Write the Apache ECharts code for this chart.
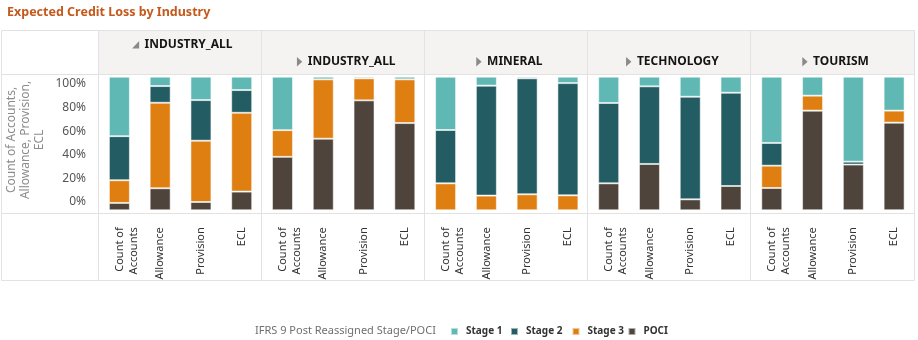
<!DOCTYPE html>
<html><head><meta charset="utf-8">
<script src="https://cdn.jsdelivr.net/npm/echarts@6/dist/echarts.min.js"></script>
<style>html,body{margin:0;padding:0;background:#fff}#c{width:918px;height:340px}</style>
</head><body><div id="c"></div>
<script>
// ---- data ----
const categories = ['Count of\nAccounts', 'Allowance', 'Provision', 'ECL'];
const industries = ['INDUSTRY_ALL', 'INDUSTRY_ALL', 'MINERAL', 'TECHNOLOGY', 'TOURISM'];
const stageNames = ['Stage 1', 'Stage 2', 'Stage 3', 'POCI'];
const yTicks = [0, 20, 40, 60, 80, 100];
// percent shares per industry panel, in category order
const stage1 = [[44.5, 7, 17.5, 10], [40, 2, 1.2, 2], [39.9, 6.7, 1.2, 4.8], [19.7, 7.2, 15, 12], [49.6, 14.2, 63.6, 25.4]];
const stage2 = [[33, 12.5, 30.4, 17], [0, 0, 0, 0], [39.9, 82.3, 86.8, 84], [60.1, 58.1, 76.8, 69.8], [17, 0, 2.2, 0]];
const stage3 = [[17, 64, 45.9, 59], [20, 44.4, 16.5, 32.7], [20.2, 11, 12, 11.2], [0, 0, 0, 0], [16.7, 11.2, 0, 9]];
const poci   = [[5.5, 16.5, 6.2, 14], [40, 53.6, 82.3, 65.3], [0, 0, 0, 0], [20.2, 34.7, 8.2, 18.2], [16.7, 74.6, 34.2, 65.6]];

// ---- styling / layout ----
const FONT = '"Noto Sans", "Open Sans", sans-serif';
const colors = { 'Stage 1': '#5fb8b4', 'Stage 2': '#245c63', 'Stage 3': '#df7f12', 'POCI': '#4f443b' };
const panelLeft = [99, 262.1, 425.2, 588.3, 751.4];
const panelW = 163.1;
const plotTop = 76.7, plotH = 133.6;
const LINE = '#e2e2e2';

const chart = echarts.init(document.getElementById('c'), null, { renderer: 'canvas' });

const grids = [], xAxes = [], yAxes = [], series = [];
panelLeft.forEach((l, p) => {
  grids.push({ left: l, top: plotTop, width: panelW, height: plotH });
  xAxes.push({
    type: 'category', gridIndex: p, data: categories,
    axisLine: { show: false }, axisTick: { show: false },
    axisLabel: {
      rotate: 90, margin: 17, fontSize: 11, color: '#333', fontFamily: FONT, lineHeight: 14, interval: 0,
      formatter: v => (v.indexOf('\n') >= 0 ? ' \n' + v : v)
    }
  });
  yAxes.push({ type: 'value', gridIndex: p, min: 0, max: 100, show: false });
  const stackOrder = [['POCI', poci], ['Stage 3', stage3], ['Stage 2', stage2], ['Stage 1', stage1]];
  stackOrder.forEach(([name, arr]) => {
    series.push({
      type: 'bar', name, stack: 'p' + p, xAxisIndex: p, yAxisIndex: p,
      barWidth: 21,
      data: arr[p].map(v => v === 0 ? '-' : v),
      itemStyle: { color: colors[name], borderColor: 'rgba(255,255,255,0.55)', borderWidth: 1 },
      emphasis: { disabled: true }
    });
  });
});
// label-only grid for the percentage axis
grids.push({ left: 86, top: 84, width: 1, height: 117.7 });
xAxes.push({ type: 'value', gridIndex: 5, show: false });
yAxes.push({
  type: 'value', gridIndex: 5, min: yTicks[0], max: yTicks[yTicks.length - 1], interval: 20,
  axisLine: { show: false }, axisTick: { show: false }, splitLine: { show: false },
  axisLabel: { margin: 0, fontSize: 12, color: '#555', fontFamily: FONT, formatter: '{value}%' }
});

// measure header text widths
const mctx = document.createElement('canvas').getContext('2d');
mctx.font = 'bold 12px ' + FONT;

const graphic = [];
graphic.push({ type: 'rect', shape: { x: 99, y: 31, width: 815, height: 43 }, style: { fill: '#f4f3f2' }, silent: true });
[30.5, 74.5, 213.5, 280.5].forEach(y => graphic.push({ type: 'line', shape: { x1: 1.5, y1: y, x2: 914.5, y2: y }, style: { stroke: LINE, lineWidth: 1 }, silent: true }));
[1.5, 98.5, 261.5, 424.5, 587.5, 750.5, 914.5].forEach(x => graphic.push({ type: 'line', shape: { x1: x, y1: 30.5, x2: x, y2: 280.5 }, style: { stroke: LINE, lineWidth: 1 }, silent: true }));
industries.forEach((name, p) => {
  const cx = panelLeft[p] + panelW / 2 + 8;
  const y = p === 0 ? 44.5 : 61.7;
  const w = mctx.measureText(name).width;
  const tr = cx - w / 2 - 5.5;
  graphic.push({
    type: 'text', x: cx, y: y, silent: true,
    style: { text: name, font: 'bold 12px ' + FONT, fill: '#161513', align: 'center', verticalAlign: 'middle', textAlign: 'center', textVerticalAlign: 'middle' }
  });
  const pts = p === 0 ? [[tr - 7, y + 4], [tr, y + 4], [tr, y - 3.5]] : [[tr - 5.3, y - 4.8], [tr - 5.3, y + 4.8], [tr, y]];
  graphic.push({ type: 'polygon', shape: { points: pts }, style: { fill: '#8a8a8a' }, silent: true });
});
graphic.push({ type: 'text', x: 7, y: 12, silent: true,
  style: { text: 'Expected Credit Loss by Industry', font: 'bold 12.5px ' + FONT, fill: '#c4591c', align: 'left', verticalAlign: 'middle', textAlign: 'left', textVerticalAlign: 'middle' } });
graphic.push({ type: 'text', x: 25.7, y: 140, rotation: Math.PI / 2, silent: true,
  style: { text: 'Count of Accounts,\nAllowance, Provision,\nECL', font: '12px ' + FONT, lineHeight: 14, fill: '#8c8c8c', align: 'center', verticalAlign: 'middle', textAlign: 'center', textVerticalAlign: 'middle' } });
graphic.push({ type: 'text', x: 255, y: 330.7, silent: true,
  style: { text: 'IFRS 9 Post Reassigned Stage/POCI', font: '11px ' + FONT, fill: '#6f6f6f', align: 'left', verticalAlign: 'middle', textAlign: 'left', textVerticalAlign: 'middle' } });

const legendLefts = [450, 510, 571.5, 627.5];
const legends = stageNames.map((n, i) => ({
  data: [n], left: legendLefts[i], top: 326.5, padding: 0, itemWidth: 7, itemHeight: 7, icon: 'rect',
  selectedMode: false,
  textStyle: { fontSize: 10, fontWeight: 'bold', color: '#333', fontFamily: FONT, padding: [0, 0, 0, 3] }
}));

chart.setOption({
  animation: false,
  color: stageNames.map(n => colors[n]),
  grid: grids, xAxis: xAxes, yAxis: yAxes, series,
  legend: legends,
  graphic
});
</script></body></html>
